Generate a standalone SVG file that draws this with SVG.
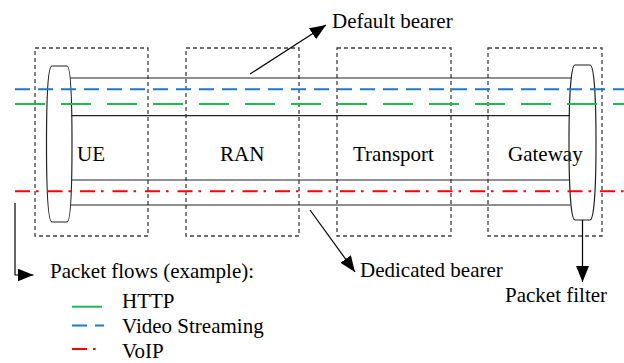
<svg xmlns="http://www.w3.org/2000/svg" width="624" height="363" viewBox="0 0 624 363">
<style>
.box{fill:none;stroke:#404040;stroke-width:1.3;stroke-dasharray:4 3}
.tube{fill:none;stroke:#222;stroke-width:1.2}
.ell{fill:none;stroke:#222;stroke-width:1.2}
.http{stroke:#1db954;stroke-width:2;fill:none;stroke-dasharray:30 16}
.video{stroke:#1f78c8;stroke-width:2;fill:none;stroke-dasharray:15 8}
.voip{stroke:#ff0000;stroke-width:2;fill:none;stroke-dasharray:15 6 2.5 9}
.arr{fill:none;stroke:#000;stroke-width:1.2}
.t{font-family:Liberation Serif, serif;font-size:21px;fill:#000}
</style>
<defs>
<marker id="ah" markerWidth="18" markerHeight="14" refX="16" refY="6.5" orient="auto" markerUnits="userSpaceOnUse">
<path d="M0,0 L16,6.5 L0,13 Z" fill="#000"/>
</marker>
</defs>
<g id="ue"><rect class="box" x="35" y="48" width="113" height="188"/><text class="t" x="77" y="161">UE</text></g>
<g id="ran"><rect class="box" x="186" y="48" width="113" height="188"/><text class="t" x="220" y="161">RAN</text></g>
<g id="transport"><rect class="box" x="337" y="48" width="114" height="188"/><text class="t" x="353" y="161">Transport</text></g>
<g id="gateway"><rect class="box" x="488" y="48" width="114" height="188"/><text class="t" x="508" y="161">Gateway</text></g>
<g id="bearers">
<line class="tube" x1="70" y1="78" x2="571.5" y2="78"/>
<line class="tube" x1="71.5" y1="115.7" x2="570" y2="115.7"/>
<line class="tube" x1="71.5" y1="180" x2="570" y2="180"/>
<line class="tube" x1="71" y1="205" x2="570.5" y2="205"/>
</g>
<g id="ue-filter"><path class="ell" d="M52,66 H67 C70.5,66 72,90 72,144 C72,198 70.5,222 67,222 H52 C48.5,222 46.5,198 46.5,144 C46.5,90 48.5,66 52,66 Z"/></g>
<g id="gw-filter"><path class="ell" d="M575,65 H590 C593.5,65 596,89 596,142.5 C596,196 593.5,220 590,220 H575 C571.5,220 569,196 569,142.5 C569,89 571.5,65 575,65 Z"/></g>
<g id="flows">
<line class="video" x1="15" y1="89.3" x2="624" y2="89.3"/>
<line class="http" x1="15" y1="104" x2="624" y2="104"/>
<line class="voip" x1="15" y1="191.3" x2="624" y2="191.3"/>
</g>
<g id="connectors">
<line class="arr" x1="250" y1="74" x2="326" y2="25" marker-end="url(#ah)"/>
<line class="arr" x1="310" y1="210" x2="355" y2="272" marker-end="url(#ah)"/>
<line class="arr" x1="582.5" y1="220" x2="582.5" y2="282" marker-end="url(#ah)"/>
<polyline class="arr" points="15,203 15,275 33.5,275" marker-end="url(#ah)"/>
</g>
<g id="labels">
<text class="t" x="332" y="28">Default bearer</text>
<text class="t" x="360" y="277">Dedicated bearer</text>
<text class="t" x="505" y="302">Packet filter</text>
</g>
<g id="legend">
<text class="t" x="50" y="278">Packet flows (example):</text>
<line stroke="#1db954" stroke-width="2" x1="72" y1="306.7" x2="102" y2="306.7"/>
<line class="video" x1="72" y1="325.5" x2="104" y2="325.5"/>
<line class="voip" x1="72" y1="349" x2="97" y2="349"/>
<text class="t" x="122" y="308">HTTP</text>
<text class="t" x="122" y="333">Video Streaming</text>
<text class="t" x="122" y="358">VoIP</text>
</g>
</svg>
